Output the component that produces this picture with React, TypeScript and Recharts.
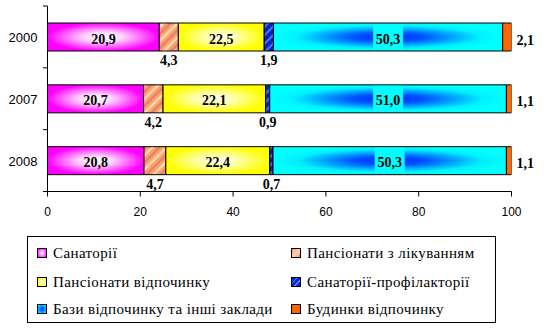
import React from 'react';
import { BarChart, Bar, XAxis, YAxis, LabelList, Legend } from 'recharts';

// ---- data ----
const years = ['2000', '2007', '2008'];
const seriesNames = [
  'Санаторії',
  'Пансіонати з лікуванням',
  'Пансіонати відпочинку',
  'Санаторії-профілакторії',
  'Бази відпочинку та інші заклади',
  'Будинки відпочинку',
];
// bar lengths as drawn
const sanatorii = [24.1, 20.7, 20.8];
const pansLikuv = [4.1, 4.2, 4.7];
const pansVidp = [18.5, 22.1, 22.4];
const profilakt = [2.0, 0.9, 0.7];
const bazy = [49.4, 51.0, 50.3];
const budynky = [1.9, 1.1, 1.1];
// printed labels
const sanatoriiLbl = ['20,9', '20,7', '20,8'];
const pansLikuvLbl = ['4,3', '4,2', '4,7'];
const pansVidpLbl = ['22,5', '22,1', '22,4'];
const profilaktLbl = ['1,9', '0,9', '0,7'];
const bazyLbl = ['50,3', '51,0', '50,3'];
const budynkyLbl = ['2,1', '1,1', '1,1'];
const xTicks = [0, 20, 40, 60, 80, 100];

const values = [sanatorii, pansLikuv, pansVidp, profilakt, bazy, budynky];
const labels = [sanatoriiLbl, pansLikuvLbl, pansVidpLbl, profilaktLbl, bazyLbl, budynkyLbl];

const data = years.map((year, i) => {
  const row: any = { year };
  values.forEach((v, k) => {
    row['s' + k] = v[i];
    row['l' + k] = labels[k][i];
  });
  return row;
});

// ---- layout / style ----
const W = 560;
const H = 335;
const MT = 6;
const MB = 113.5;
const XH = 30;
const LEFT = 47.5;
const BAND = (H - MT - MB - XH) / years.length;
const SERIF = 'Liberation Serif, Times New Roman, DejaVu Serif, serif';
const SANS = 'Liberation Sans, Arial, sans-serif';

const fills = ['url(#gMag)', 'url(#pOrange)', 'url(#gYel)', 'url(#pBlue)', 'url(#gCyan)', '#ff6600'];
const labelPos: ('inside' | 'below' | 'right')[] = ['inside', 'below', 'inside', 'below', 'inside', 'right'];
const labelBg: (string | undefined)[] = [undefined, undefined, undefined, undefined, '#00ffff', undefined];
const swatches = [
  'radial-gradient(#ffffff, #ff00ff)',
  'linear-gradient(135deg, #f49868, #ffd6b8, #f49868)',
  'radial-gradient(#ffffe8, #ffff00)',
  'repeating-linear-gradient(135deg, #0a2ad0 0px, #0a2ad0 3px, #5a88ff 3px, #5a88ff 4px)',
  'radial-gradient(#0030ff, #00ffff)',
  '#ff6600',
];

const makeLabel = (pos: 'inside' | 'below' | 'right', bg?: string) => (props: any) => {
  const vb = props.viewBox || {};
  const x = Number(props.x ?? vb.x);
  const y = Number(props.y ?? vb.y);
  const width = Number(props.width ?? vb.width);
  const height = Number(props.height ?? vb.height);
  const t = props.value;
  let tx = x + width / 2;
  let ty = y + height / 2 + 2;
  let anchor: any = 'middle';
  if (pos === 'below') {
    ty = y + height + 9.5;
  } else if (pos === 'right') {
    tx = x + width + 5;
    ty = y + height / 2 + 3;
    anchor = 'start';
  }
  return (
    <g>
      {bg && <rect x={tx - 15} y={y + 1} width={30} height={height - 2} fill={bg} />}
      <text
        x={tx}
        y={ty}
        textAnchor={anchor}
        dominantBaseline="central"
        style={{ fontFamily: SERIF, fontWeight: 700, fontSize: 14 }}
        fill="#000"
      >
        {t}
      </text>
    </g>
  );
};

const renderYTick = (props: any) => {
  const { y, payload, index } = props;
  const yy = Number(y);
  return (
    <g>
      <line x1={LEFT - 4.5} x2={LEFT} y1={yy - BAND / 2} y2={yy - BAND / 2} stroke="#000" />
      {index === years.length - 1 && (
        <line x1={LEFT - 4.5} x2={LEFT} y1={yy + BAND / 2} y2={yy + BAND / 2} stroke="#000" />
      )}
      <text
        x={LEFT - 10}
        y={yy + 1}
        textAnchor="end"
        dominantBaseline="central"
        style={{ fontFamily: SANS, fontSize: 13 }}
        fill="#000"
      >
        {payload.value}
      </text>
    </g>
  );
};

const legendPos = [
  { left: 9, top: 16.3 },
  { left: 263, top: 16.3 },
  { left: 9, top: 44.7 },
  { left: 263, top: 44.7 },
  { left: 9, top: 72.3 },
  { left: 263, top: 72.3 },
];

const renderLegend = () => (
  <div
    style={{
      position: 'relative',
      width: 469,
      height: 87,
      boxSizing: 'border-box',
      border: '1px solid #000',
      background: '#fff',
      fontFamily: SERIF,
      fontSize: 15,
      color: '#000',
    }}
  >
    {seriesNames.map((name, k) => (
      <div key={name}>
        <div
          style={{
            position: 'absolute',
            left: legendPos[k].left,
            top: legendPos[k].top - 5,
            width: 10,
            height: 10,
            boxSizing: 'border-box',
            border: '1px solid #000',
            background: swatches[k],
          }}
        />
        <div
          style={{
            position: 'absolute',
            left: legendPos[k].left + 16,
            top: legendPos[k].top - 9,
            height: 18,
            lineHeight: '18px',
            whiteSpace: 'nowrap',
            letterSpacing: 0.4,
            fontFamily: SERIF,
          }}
        >
          {name}
        </div>
      </div>
    ))}
  </div>
);

export default function App() {
  return (
    <div style={{ position: 'absolute', left: 0, top: 0, width: W, height: H, background: '#fff' }}>
      <BarChart
        width={W}
        height={H}
        data={data}
        layout="vertical"
        margin={{ top: MT, right: 48.5, bottom: MB, left: 0.5 }}
        barSize={28}
      >
        <defs>
          <radialGradient id="gMag" cx="50%" cy="50%" r="50%">
            <stop offset="0%" stopColor="#ffffff" />
            <stop offset="35%" stopColor="#ffd4ff" />
            <stop offset="100%" stopColor="#ff00ff" />
          </radialGradient>
          <radialGradient id="gYel" cx="50%" cy="50%" r="50%">
            <stop offset="0%" stopColor="#fffff0" />
            <stop offset="40%" stopColor="#ffffa8" />
            <stop offset="100%" stopColor="#ffff00" />
          </radialGradient>
          <radialGradient id="gCyan" cx="50%" cy="50%" r="50%">
            <stop offset="0%" stopColor="#0030ff" />
            <stop offset="30%" stopColor="#0050ff" />
            <stop offset="80%" stopColor="#00f0ff" />
            <stop offset="100%" stopColor="#00ffff" />
          </radialGradient>
          <pattern id="pOrange" width="10" height="10" patternUnits="userSpaceOnUse" patternTransform="rotate(45)">
            <rect width="10" height="10" fill="#fca060" />
            <line x1="2" y1="0" x2="2" y2="10" stroke="#ffdcb8" strokeWidth="2.5" />
            <line x1="7" y1="0" x2="7" y2="10" stroke="#e46a8c" strokeWidth="1.5" />
          </pattern>
          <pattern id="pBlue" width="6" height="6" patternUnits="userSpaceOnUse" patternTransform="rotate(45)">
            <rect width="6" height="6" fill="#0a2ad0" />
            <line x1="2" y1="0" x2="2" y2="6" stroke="#5a88ff" strokeWidth="1.5" />
            <line x1="5" y1="0" x2="5" y2="6" stroke="#001a80" strokeWidth="1" />
          </pattern>
        </defs>
        <XAxis
          type="number"
          domain={[0, 100]}
          ticks={xTicks}
          interval={0}
          allowDataOverflow
          height={XH}
          tickSize={5}
          tickMargin={11}
          axisLine={{ stroke: '#000' }}
          tickLine={{ stroke: '#000' }}
          tick={{ fill: '#000', fontSize: 12, fontFamily: SANS }}
        />
        <YAxis
          type="category"
          dataKey="year"
          width={47}
          interval={0}
          tickLine={false}
          axisLine={{ stroke: '#000' }}
          tick={renderYTick}
        />
        {values.map((_, k) => (
          <Bar
            key={k}
            dataKey={'s' + k}
            name={seriesNames[k]}
            stackId="a"
            fill={fills[k]}
            stroke="#000"
            strokeWidth={1}
            isAnimationActive={false}
          >
            <LabelList dataKey={'l' + k} content={makeLabel(labelPos[k], labelBg[k])} />
          </Bar>
        ))}
        <Legend
          layout="horizontal"
          verticalAlign="middle"
          align="center"
          content={renderLegend}
          wrapperStyle={{ position: 'absolute', left: 27, top: 236, width: 469, height: 87 }}
        />
      </BarChart>
    </div>
  );
}
